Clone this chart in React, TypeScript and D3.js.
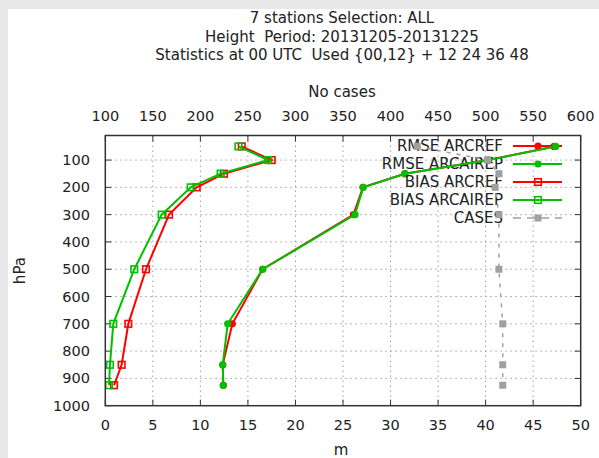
import React from "react";
import * as d3 from "d3";

const levels = [50, 100, 150, 200, 300, 500, 700, 850, 925];
const rmseArcref = [47.2, 40.3, 31.5, 27.1, 26.1, 16.55, 13.36, 12.35, 12.41];
const rmseArcairep = [47.37, 40.28, 31.52, 27.13, 26.26, 16.55, 12.87, 12.35, 12.41];
const biasArcref = [14.35, 17.5, 12.48, 9.61, 6.7, 4.28, 2.42, 1.72, 0.92];
const biasArcairep = [14.0, 17.14, 12.13, 8.98, 5.93, 3.05, 0.84, 0.49, 0.39];
const cases = [428, 502, 514, 510, 514, 514, 518, 518, 518];

const xTicks = [0, 5, 10, 15, 20, 25, 30, 35, 40, 45, 50];
const x2Ticks = [100, 150, 200, 250, 300, 350, 400, 450, 500, 550, 600];
const yTicks = [100, 200, 300, 400, 500, 600, 700, 800, 900, 1000];

const titleLines = [
  "7 stations Selection: ALL",
  "Height  Period: 20131205-20131225",
  "Statistics at 00 UTC  Used {00,12} + 12 24 36 48",
];

const legendNames = ["RMSE ARCREF", "RMSE ARCAIREP", "BIAS ARCREF", "BIAS ARCAIREP", "CASES"];

const RED = "#ff0000";
const GREEN = "#00c000";
const GRAY = "#a0a0a0";
const FONT = "'DejaVu Sans', sans-serif";

export default function App() {
  const W = 599, H = 458;
  const left = 105.3, right = 580.7, top = 135.5, bottom = 405.7;
  const x = d3.scaleLinear().domain([0, 50]).range([left, right]);
  const x2 = d3.scaleLinear().domain([100, 600]).range([left, right]);
  const y = d3.scaleLinear().domain([10, 1000]).range([top, bottom]);

  const lineM = d3.line<[number, number]>().x((d) => x(d[0])).y((d) => y(d[1]));
  const lineC = d3.line<[number, number]>().x((d) => x2(d[0])).y((d) => y(d[1]));

  const pts = (vals: number[]) => vals.map((v, i) => [v, levels[i]] as [number, number]);

  const legX = 503, legLine0 = 513, legLine1 = 562, legMark = 538;
  const legY = (i: number) => 146 + i * 18;

  const circle = (cx: number, cy: number, color: string, key: string) => (
    <circle key={key} cx={cx} cy={cy} r={3.6} fill={color} />
  );
  const square = (cx: number, cy: number, color: string, key: string) => (
    <rect key={key} x={cx - 3.3} y={cy - 3.3} width={6.6} height={6.6} fill="none" stroke={color} strokeWidth={1.6} />
  );
  const fsquare = (cx: number, cy: number, color: string, key: string) => (
    <rect key={key} x={cx - 3.5} y={cy - 3.5} width={7} height={7} fill={color} />
  );

  const series = [
    { name: legendNames[0], vals: rmseArcref, color: RED, mark: circle },
    { name: legendNames[1], vals: rmseArcairep, color: GREEN, mark: circle },
    { name: legendNames[2], vals: biasArcref, color: RED, mark: square },
    { name: legendNames[3], vals: biasArcairep, color: GREEN, mark: square },
  ];

  return (
    <svg width={W} height={H} style={{ position: "absolute", left: 0, top: 0 }} fontFamily={FONT}>
      <rect x={0} y={0} width={W} height={H} fill="#e8e8e8" />
      <rect x={8} y={9} width={W} height={H} fill="#ffffff" />

      {titleLines.map((t, i) => (
        <text key={t} x={342} y={23 + i * 18.5} textAnchor="middle" fontSize={15} fill="#222" style={{ whiteSpace: "pre" }}>
          {t}
        </text>
      ))}
      <text x={342} y={97} textAnchor="middle" fontSize={15} fill="#222">No cases</text>

      {/* grid */}
      {xTicks.slice(1, -1).map((t) => (
        <line key={"gx" + t} x1={x(t)} x2={x(t)} y1={top} y2={bottom} stroke={GRAY} strokeWidth={1} strokeDasharray="1.5,3.5" />
      ))}
      {yTicks.slice(0, -1).map((t) => (
        <line key={"gy" + t} x1={left} x2={right} y1={y(t)} y2={y(t)} stroke={GRAY} strokeWidth={1} strokeDasharray="1.5,3.5" />
      ))}

      {/* ticks */}
      {xTicks.map((t) => (
        <g key={"tx" + t}>
          <line x1={x(t)} x2={x(t)} y1={bottom} y2={bottom - 6} stroke="#333" />
          <text x={x(t)} y={430} textAnchor="middle" fontSize={14.5} fill="#222">{t}</text>
        </g>
      ))}
      {x2Ticks.map((t) => (
        <g key={"tx2" + t}>
          <line x1={x2(t)} x2={x2(t)} y1={top} y2={top + 6} stroke="#333" />
          <text x={x2(t)} y={121} textAnchor="middle" fontSize={14.5} fill="#222">{t}</text>
        </g>
      ))}
      {yTicks.map((t) => (
        <g key={"ty" + t}>
          <line x1={left} x2={left + 6} y1={y(t)} y2={y(t)} stroke="#333" />
          <line x1={right} x2={right - 6} y1={y(t)} y2={y(t)} stroke="#333" />
          <text x={90} y={y(t) + 5} textAnchor="end" fontSize={14.5} fill="#222">{t}</text>
        </g>
      ))}

      <text x={341} y={455} textAnchor="middle" fontSize={15} fill="#222">m</text>
      <text transform={`translate(25,${(top + bottom) / 2}) rotate(-90)`} textAnchor="middle" fontSize={15} fill="#222">hPa</text>

      {/* series */}
      {series.map((s, si) => (
        <g key={s.name}>
          <text x={legX} y={legY(si) + 5} textAnchor="end" fontSize={15} fill="#222">{s.name}</text>
          <line x1={legLine0} x2={legLine1} y1={legY(si)} y2={legY(si)} stroke={s.color} strokeWidth={2} />
          {s.mark(legMark, legY(si), s.color, "lm")}
          <path d={lineM(pts(s.vals)) || ""} fill="none" stroke={s.color} strokeWidth={2} />
          {pts(s.vals).map((p, i) => s.mark(x(p[0]), y(p[1]), s.color, "m" + i))}
        </g>
      ))}

      <g>
        <text x={legX} y={legY(4) + 5} textAnchor="end" fontSize={15} fill="#222">CASES</text>
        <line x1={legLine0} x2={legLine1} y1={legY(4)} y2={legY(4)} stroke={GRAY} strokeWidth={1.5} strokeDasharray="8,6" />
        {fsquare(legMark, legY(4), GRAY, "lc")}
        <path d={lineC(pts(cases)) || ""} fill="none" stroke={GRAY} strokeWidth={1.5} strokeDasharray="4,6" />
        {pts(cases).map((p, i) => fsquare(x2(p[0]), y(p[1]), GRAY, "c" + i))}
      </g>

      <rect x={left} y={top} width={right - left} height={bottom - top} fill="none" stroke="#333" strokeWidth={1.5} />
    </svg>
  );
}
